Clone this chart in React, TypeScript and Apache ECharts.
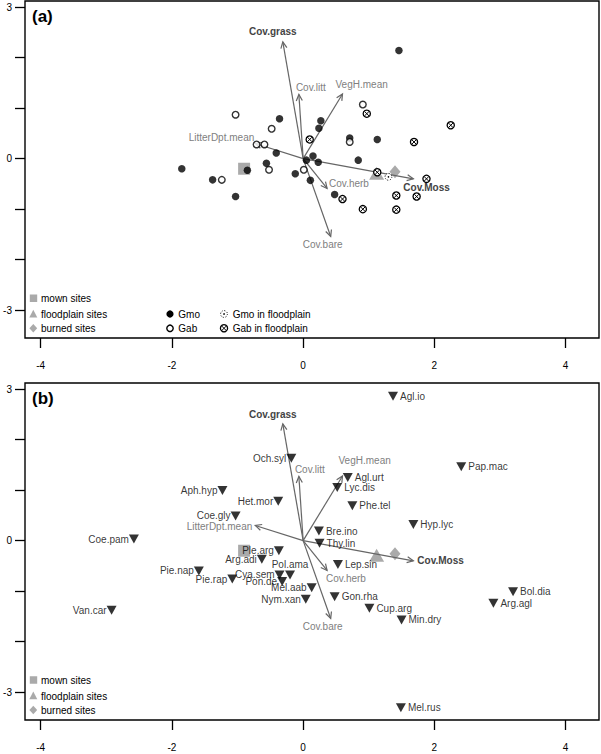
import React, { useEffect, useRef } from "react";
import * as echarts from "echarts";

// ---------- data ----------
const xTicks = [-4, -2, 0, 2, 4];
const yTicks = [-3, -2, -1, 0, 1, 2, 3];
const yLabels = [-3, 0, 3];

const envVars = ["Cov.grass", "Cov.litt", "VegH.mean", "LitterDpt.mean", "Cov.herb", "Cov.Moss", "Cov.bare"];
const envX = [-0.31, -0.065, 0.6, -0.73, 0.365, 1.68, 0.42];
const envY = [2.31, 1.27, 1.28, 0.3, -0.59, -0.4, -1.54];
const boldVars = ["Cov.grass", "Cov.Moss"];

const centroidNames = ["mown sites", "floodplain sites", "burned sites"];
const centroidX = [-0.9, 1.12, 1.4];
const centroidY = [-0.2, -0.29, -0.26];

const gmoSites = [
  [-0.36, 0.79], [0.27, 0.75], [0.24, 0.6], [0.71, 0.41], [-0.41, 0.11], [-0.56, -0.09],
  [-0.85, -0.23], [-1.85, -0.2], [-1.38, -0.42], [-1.03, -0.75], [0.05, -0.03], [0.15, 0.05],
  [0.23, -0.07], [-0.12, -0.3], [0.11, -0.43], [0.48, -0.71], [0.84, -0.03], [1.13, 0.38], [1.46, 2.14],
];
const gabSites = [
  [-1.03, 0.87], [-0.48, 0.59], [0.71, 0.33], [-0.71, 0.28], [-0.59, 0.28], [-0.52, -0.22],
  [-1.24, -0.42], [0.01, -0.22], [0.91, 1.07],
];
const gmoFloodSites = [[1.3, -0.36]];
const gabFloodSites = [
  [0.1, 0.38], [0.6, -0.8], [0.97, 0.89], [2.25, 0.66], [1.69, 0.33], [1.13, -0.27],
  [1.88, -0.4], [1.42, -0.73], [1.73, -0.75], [0.91, -1.0], [1.42, -1.01],
];

const speciesNames = [
  "Agl.io", "Pap.mac", "Agl.urt", "Lyc.dis", "Phe.tel", "Hyp.lyc", "Bre.ino", "Thy.lin", "Lep.sin",
  "Och.syl", "Aph.hyp", "Het.mor", "Coe.gly", "Coe.pam", "Ple.arg", "Arg.adi", "Pol.ama", "Cya.sem",
  "Pon.de", "Mel.aab", "Nym.xan", "Gon.rha", "Cup.arg", "Min.dry", "Bol.dia", "Arg.agl", "Mel.rus",
  "Pie.nap", "Pie.rap", "Van.car",
];
const speciesX = [
  1.37, 2.41, 0.68, 0.52, 0.75, 1.68, 0.24, 0.25, 0.53,
  -0.18, -1.23, -0.38, -1.03, -2.58, -0.37, -0.63, -0.2, -0.36,
  -0.32, 0.13, 0.04, 0.48, 1.01, 1.5, 3.2, 2.9, 1.49,
  -1.59, -1.08, -2.92,
];
const speciesY = [
  2.86, 1.46, 1.25, 1.05, 0.69, 0.32, 0.19, -0.05, -0.47,
  1.63, 0.99, 0.78, 0.49, 0.03, -0.2, -0.37, -0.68, -0.68,
  -0.81, -0.93, -1.16, -1.11, -1.34, -1.57, -1.01, -1.24, -3.31,
  -0.6, -0.76, -1.38,
];

// ---------- styles ----------
const FONT = "Liberation Sans, Arial, Helvetica, sans-serif";
const GRAY = "#aaaaaa";
const ARROW = "#666666";

// label placement for species (style only)
const speciesLabelPos: Record<string, { pos: string; offset?: number[]; distance?: number }> = {
  "Ple.arg": { pos: "left", offset: [3, -10], distance: 0 },
  "Pol.ama": { pos: "top", offset: [4, 1], distance: 1 },
  "Cya.sem": { pos: "left", offset: [3, -6], distance: 0 },
  "Pon.de": { pos: "left", offset: [0, 3], distance: 0 },
  "Mel.aab": { pos: "left", offset: [1, 3], distance: 0 },
  "Arg.adi": { pos: "left", offset: [1, 2], distance: 0 },
};
const leftLabelled = ["Och.syl", "Aph.hyp", "Het.mor", "Coe.gly", "Coe.pam", "Nym.xan", "Pie.nap", "Pie.rap", "Van.car"];

// arrow-label offsets (pixels from arrow tip) per panel
const envLabelA = [
  { dx: -10, dy: -10, align: "center" },
  { dx: -3, dy: -7, align: "left" },
  { dx: -7, dy: -9, align: "left" },
  { dx: -1, dy: -6, align: "right" },
  { dx: 2, dy: -5, align: "left" },
  { dx: -10, dy: 9, align: "left" },
  { dx: -8, dy: 8, align: "center" },
];
const envLabelB = [
  { dx: -10, dy: -9, align: "center" },
  { dx: -4, dy: -7, align: "left" },
  { dx: -4, dy: -15, align: "left" },
  { dx: -3, dy: 1, align: "right" },
  { dx: -1, dy: 8, align: "left" },
  { dx: 4, dy: 0, align: "left" },
  { dx: -8, dy: 8, align: "center" },
];

function makeAxes(gi: number) {
  const x = {
    gridIndex: gi,
    type: "value",
    min: -4.24,
    max: 4.51,
    splitLine: { show: false },
    axisLine: { show: false, onZero: false },
    axisTick: { show: true, length: 10, customValues: xTicks, lineStyle: { color: "#000", width: 1.3 } },
    axisLabel: { customValues: xTicks, margin: 22, fontSize: 10, color: "#000", fontFamily: FONT },
  };
  const y = {
    gridIndex: gi,
    type: "value",
    min: -3.55,
    max: 3.12,
    splitLine: { show: false },
    axisLine: { show: false, onZero: false },
    axisTick: { show: true, length: 10, customValues: yTicks, lineStyle: { color: "#000", width: 1.3 } },
    axisLabel: { customValues: yLabels, margin: 13, fontSize: 10, color: "#000", fontFamily: FONT },
  };
  return { x, y };
}

function arrowSeries(gi: number, labels: any[]) {
  return {
    type: "custom",
    xAxisIndex: gi,
    yAxisIndex: gi,
    z: 3,
    silent: true,
    data: envVars.map((_, i) => [envX[i], envY[i], i]),
    renderItem: (params: any, api: any) => {
      const i = api.value(2);
      const o = api.coord([0, 0]);
      const t = api.coord([api.value(0), api.value(1)]);
      const ang = Math.atan2(t[1] - o[1], t[0] - o[0]);
      const hl = 7;
      const ha = Math.PI / 7;
      const p1 = [t[0] - hl * Math.cos(ang - ha), t[1] - hl * Math.sin(ang - ha)];
      const p2 = [t[0] - hl * Math.cos(ang + ha), t[1] - hl * Math.sin(ang + ha)];
      const ls = labels[i];
      const name = envVars[i];
      const bold = boldVars.includes(name);
      return {
        type: "group",
        children: [
          { type: "line", shape: { x1: o[0], y1: o[1], x2: t[0], y2: t[1] }, style: { stroke: ARROW, lineWidth: 1.2 } },
          { type: "polyline", shape: { points: [p1, t, p2] }, style: { stroke: ARROW, lineWidth: 1.2, fill: null } },
          {
            type: "text",
            x: t[0] + ls.dx,
            y: t[1] + ls.dy,
            style: {
              text: name,
              fill: bold ? "#444" : "#808080",
              font: (bold ? "bold " : "") + "10px " + FONT,
              align: ls.align,
              verticalAlign: "middle",
            },
          },
        ],
      };
    },
  };
}

function centroidSeries(gi: number) {
  const syms = ["rect", "triangle", "diamond"];
  const sizes = [[12, 12], [15, 13], [11, 13]];
  return centroidNames.map((n, i) => ({
    type: "scatter",
    name: n,
    xAxisIndex: gi,
    yAxisIndex: gi,
    z: 2,
    symbol: syms[i],
    symbolSize: sizes[i],
    itemStyle: { color: GRAY, opacity: 1 },
    data: [[centroidX[i], centroidY[i]]],
  }));
}

function gabFloodShape(cx: number, cy: number) {
  const r = 3.6;
  const d = r * 0.62;
  return [
    { type: "circle", shape: { cx, cy, r }, style: { fill: "#fff", stroke: "#000", lineWidth: 1.3 } },
    { type: "line", shape: { x1: cx - d, y1: cy - d, x2: cx + d, y2: cy + d }, style: { stroke: "#000", lineWidth: 1 } },
    { type: "line", shape: { x1: cx - d, y1: cy + d, x2: cx + d, y2: cy - d }, style: { stroke: "#000", lineWidth: 1 } },
  ];
}
function gmoFloodShape(cx: number, cy: number) {
  return [
    { type: "circle", shape: { cx, cy, r: 3.4 }, style: { fill: "#fff", stroke: "#000", lineWidth: 1, lineDash: [1, 1.6] } },
    { type: "circle", shape: { cx, cy, r: 0.8 }, style: { fill: "#000" } },
  ];
}

export default function App() {
  const ref = useRef<HTMLDivElement>(null);
  useEffect(() => {
    if (!ref.current) return;
    const chart = echarts.init(ref.current, null, { renderer: "svg" });
    const a = makeAxes(0);
    const b = makeAxes(1);

    const speciesData = speciesNames.map((n, i) => {
      const custom = speciesLabelPos[n];
      let label: any;
      if (custom) {
        label = { position: custom.pos, offset: custom.offset || [0, 0], distance: custom.distance ?? 1 };
      } else if (leftLabelled.includes(n)) {
        label = { position: "left", distance: 0 };
      } else {
        label = { position: "right", distance: 2 };
      }
      return { name: n, value: [speciesX[i], speciesY[i]], label };
    });

    const legendText = (x: number, y: number, text: string) => ({
      type: "text",
      x,
      y,
      style: { text, fill: "#000", font: "10px " + FONT, align: "left", verticalAlign: "middle" },
    });
    const centroidLegend = (y0: number) => [
      { type: "rect", shape: { x: 29.8, y: y0 - 3.7, width: 7.4, height: 7.4 }, style: { fill: GRAY } },
      { type: "polygon", shape: { points: [[33.3, y0 + 16 - 4.5], [29.3, y0 + 16 + 3.3], [37.3, y0 + 16 + 3.3]] }, style: { fill: GRAY } },
      { type: "polygon", shape: { points: [[33.3, y0 + 30 - 4.2], [37.2, y0 + 30], [33.3, y0 + 30 + 4.2], [29.4, y0 + 30]] }, style: { fill: GRAY } },
      legendText(41, y0, centroidNames[0]),
      legendText(41, y0 + 16, centroidNames[1]),
      legendText(41, y0 + 30, centroidNames[2]),
    ];

    const graphics: any[] = [
      { type: "text", x: 32, y: 16.5, style: { text: "(a)", fill: "#000", font: "bold 17px " + FONT, verticalAlign: "middle" } },
      { type: "text", x: 32, y: 398.5, style: { text: "(b)", fill: "#000", font: "bold 17px " + FONT, verticalAlign: "middle" } },
      ...centroidLegend(298.3),
      { type: "circle", shape: { cx: 170, cy: 314, r: 3.6 }, style: { fill: "#000" } },
      { type: "circle", shape: { cx: 170, cy: 328.3, r: 3.2 }, style: { fill: "#fff", stroke: "#000", lineWidth: 1.4 } },
      legendText(178.3, 314, "Gmo"),
      legendText(178.3, 328.3, "Gab"),
      ...gmoFloodShape(224, 314),
      ...gabFloodShape(224, 328.3),
      legendText(232.7, 314, "Gmo in floodplain"),
      legendText(232.7, 328.3, "Gab in floodplain"),
      ...centroidLegend(680),
    ];

    const option: any = {
      animation: false,
      backgroundColor: "#fff",
      grid: [
        { left: 25, top: 1, width: 574, height: 337, show: true, borderColor: "#000", borderWidth: 1.4, backgroundColor: "transparent" },
        { left: 25, top: 383, width: 574, height: 337, show: true, borderColor: "#000", borderWidth: 1.4, backgroundColor: "transparent" },
      ],
      xAxis: [a.x, b.x],
      yAxis: [a.y, b.y],
      graphic: graphics,
      series: [
        ...centroidSeries(0),
        ...centroidSeries(1),
        arrowSeries(0, envLabelA),
        arrowSeries(1, envLabelB),
        {
          type: "scatter",
          name: "Gmo",
          xAxisIndex: 0,
          yAxisIndex: 0,
          z: 4,
          symbol: "circle",
          symbolSize: 7.5,
          itemStyle: { color: "#000" },
          data: gmoSites,
        },
        {
          type: "scatter",
          name: "Gab",
          xAxisIndex: 0,
          yAxisIndex: 0,
          z: 4,
          symbol: "circle",
          symbolSize: 6.6,
          itemStyle: { color: "#fff", borderColor: "#000", borderWidth: 1.4 },
          data: gabSites,
        },
        {
          type: "custom",
          name: "Gmo in floodplain",
          xAxisIndex: 0,
          yAxisIndex: 0,
          z: 4,
          data: gmoFloodSites,
          renderItem: (p: any, api: any) => {
            const c = api.coord([api.value(0), api.value(1)]);
            return { type: "group", children: gmoFloodShape(c[0], c[1]) };
          },
        },
        {
          type: "custom",
          name: "Gab in floodplain",
          xAxisIndex: 0,
          yAxisIndex: 0,
          z: 4,
          data: gabFloodSites,
          renderItem: (p: any, api: any) => {
            const c = api.coord([api.value(0), api.value(1)]);
            return { type: "group", children: gabFloodShape(c[0], c[1]) };
          },
        },
        {
          type: "scatter",
          name: "species",
          xAxisIndex: 1,
          yAxisIndex: 1,
          z: 4,
          symbol: "triangle",
          symbolRotate: 180,
          symbolSize: [10, 9],
          itemStyle: { color: "#000" },
          label: {
            show: true,
            formatter: "{b}",
            fontSize: 10,
            fontFamily: FONT,
            color: "#000",
          },
          labelLayout: { hideOverlap: false },
          data: speciesData,
        },
      ],
    };
    chart.setOption(option);
    return () => chart.dispose();
  }, []);
  return <div ref={ref} style={{ position: "absolute", left: 0, top: 0, width: 601, height: 754 }} />;
}
